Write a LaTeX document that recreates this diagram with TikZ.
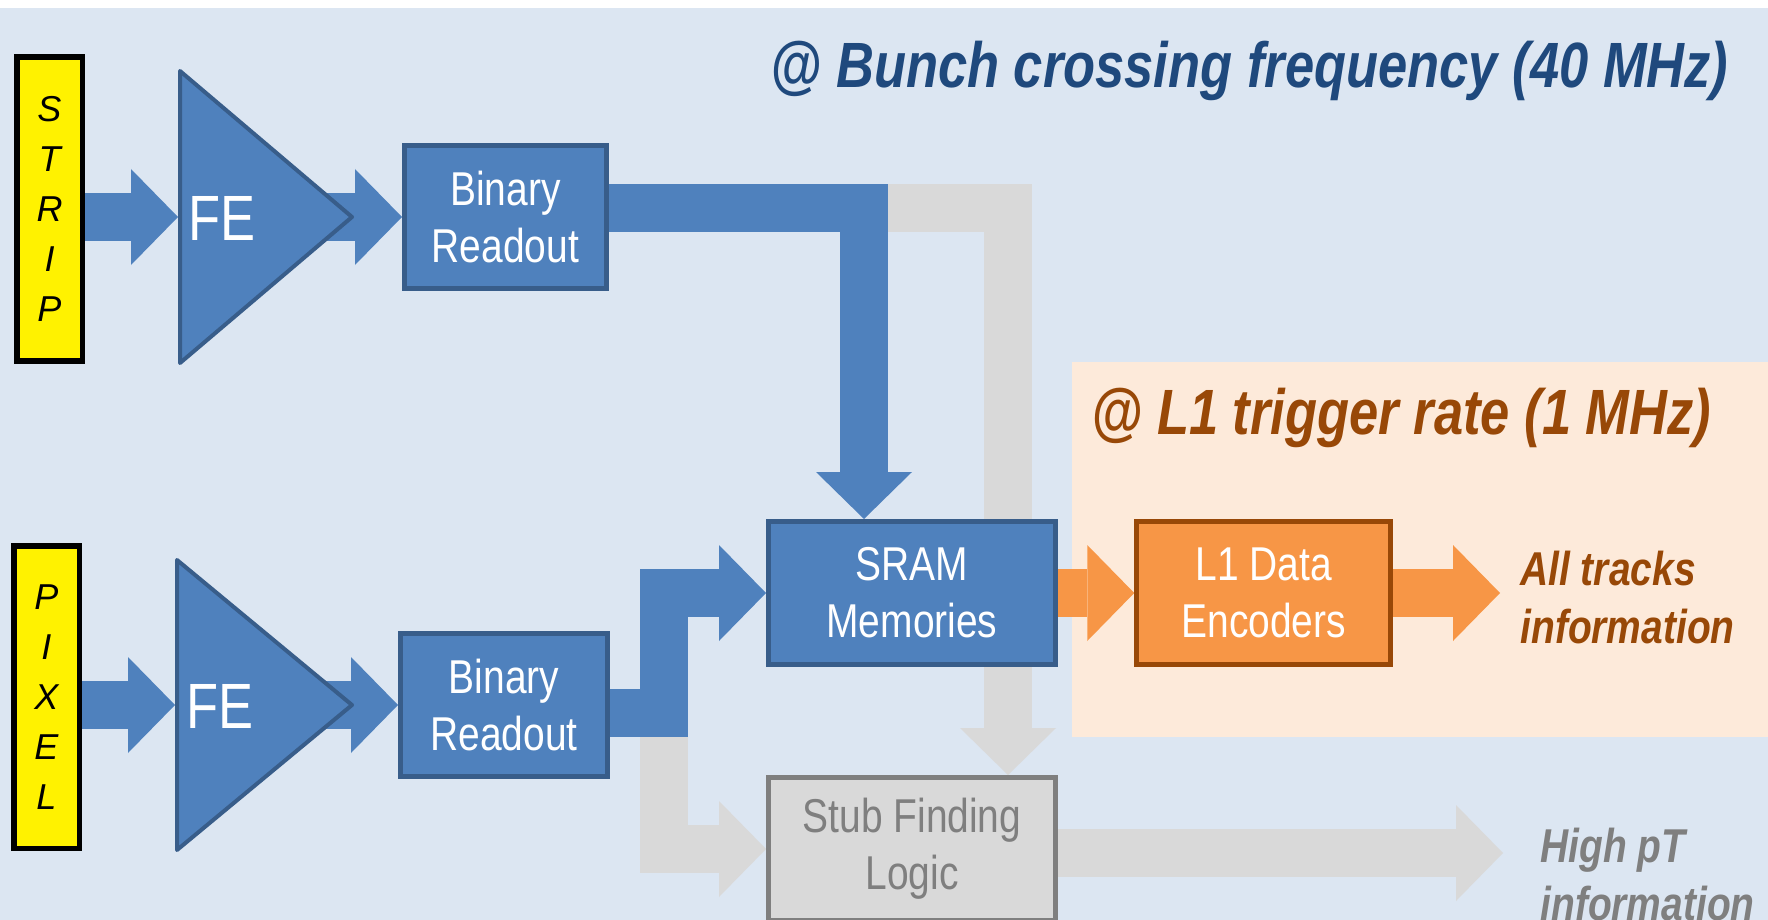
\documentclass[tikz,border=0pt]{standalone}
\usepackage{fontspec}
\setmainfont{Liberation Sans}[FakeStretch=0.82]
\newfontfamily\letterfont{Liberation Sans}
\usetikzlibrary{arrows.meta,calc}
\definecolor{bgblue}{HTML}{DCE6F2}
\definecolor{boxblue}{HTML}{4F81BD}
\definecolor{edgeblue}{HTML}{385D8A}
\definecolor{titleblue}{HTML}{1F497D}
\definecolor{fadegray}{HTML}{D9D9D9}
\definecolor{edgegray}{HTML}{7F7F7F}
\definecolor{l1bg}{HTML}{FDEADA}
\definecolor{l1orange}{HTML}{F79646}
\definecolor{l1brown}{HTML}{984807}
\pgfdeclarelayer{back}
\pgfdeclarelayer{flow}
\pgfsetlayers{back,flow,main}

\begin{document}
\begin{tikzpicture}[x=0.5pt, y=-0.5pt, every node/.style={inner sep=0pt},
    sensor/.style={draw=black, line width=2.75pt, fill=yellow, minimum width=32.75pt,
      minimum height=152pt, align=center,
      font=\letterfont\itshape\fontsize{18pt}{25pt}\selectfont},
    amp/.style={draw=edgeblue, line width=2pt, fill=boxblue, line join=round},
    amplabel/.style={anchor=west, text=white, font=\fontsize{32pt}{32pt}\selectfont},
    blk/.style={draw=edgeblue, line width=2.5pt, fill=boxblue, text=white,
      minimum height=71.5pt, align=center, font=\fontsize{23.75pt}{28.5pt}\selectfont},
    encbox/.style={blk, draw=l1brown, fill=l1orange},
    stubbox/.style={blk, draw=edgegray, fill=fadegray, text=edgegray},
    flowblue/.style={draw=boxblue, line width=24pt,
      -{Triangle[length=23.5pt, width=48pt, line width=0pt]}},
    flowgray/.style={flowblue, draw=fadegray},
    floworange/.style={flowblue, draw=l1orange},
    headline/.style={anchor=base west, font=\bfseries\itshape\fontsize{32pt}{38pt}\selectfont},
    outlabel/.style={anchor=west, align=left,
      font=\bfseries\itshape\fontsize{23.75pt}{29pt}\selectfont}]
  \useasboundingbox (0,0) rectangle (1768,920);
  % backgrounds
  \begin{pgfonlayer}{back}
    \fill[bgblue] (0,8) rectangle (1768,920);
    \fill[l1bg] (1072,361.5) rectangle (1768,736.5);
  \end{pgfonlayer}

  % rates
  \node[headline, text=titleblue] (bxrate) at (770,88) {@ Bunch crossing frequency (40 MHz)};
  \node[headline, text=l1brown] (l1rate) at (1091,434) {@ L1 trigger rate (1 MHz)};

  % sensors
  \node[sensor] (strip) at (49.5,209) {S\\T\\R\\I\\P};
  \node[sensor, minimum height=151.25pt] (pixel) at (46.5,697) {P\\I\\X\\E\\L};

  % front-end amplifiers
  \draw[amp] (180,71) -- (352,217) -- (180,363) -- cycle;
  \draw[amp] (177,560) -- (352,705) -- (177,850) -- cycle;
  \coordinate (fe1in) at (178,217);
  \coordinate (fe2in) at (175,705);
  \node[amplabel] (fe1) at (188,218) {FE};
  \node[amplabel] (fe2) at (186,706) {FE};

  % blocks
  \node[blk, minimum width=101pt] (binary1) at (505.5,217) {Binary\\Readout};
  \node[blk, minimum width=103.5pt] (binary2) at (504,705) {Binary\\Readout};
  \node[blk, minimum width=143.5pt] (sram) at (912,593) {SRAM\\Memories};
  \node[encbox, minimum width=127pt] (l1enc) at (1263.75,593) {L1 Data\\Encoders};
  \node[stubbox, minimum width=143.5pt] (stub) at (912,849) {Stub Finding\\Logic};

  % outputs
  \node[outlabel, text=l1brown] (tracks) at (1520,598) {All tracks\\information};
  \node[outlabel, text=edgegray] (hipt) at (1540,875) {High pT\\information};

  % data flow
  \begin{pgfonlayer}{flow}
    \coordinate (topbend) at (864,208);
    \coordinate (lowbend) at (664,713);
    \draw[flowgray] (topbend) -| ($(stub.north)+(96,0)$);
    \draw[flowgray] (lowbend) |- (stub.west);
    \draw[flowgray, shorten >=18.5pt] ($(stub.east)+(0,4)$) -- ($(stub.east -| hipt.west)+(0,4)$);
    \draw[flowblue] (strip.east |- fe1in) -- (fe1in);
    \draw[flowblue] (fe1.east |- binary1.west) -- (binary1.west);
    \draw[flowblue] (pixel.east |- fe2in) -- (fe2in);
    \draw[flowblue] (fe2.east |- binary2.west) -- (binary2.west);
    \draw[flowblue] (binary1.east |- topbend) -| ($(sram.north)+(-48,0)$);
    \draw[flowblue] (binary2.east |- lowbend) -- (lowbend) |- (sram.west);
    \draw[floworange] (sram.east) -- (l1enc.west);
    \draw[floworange, shorten >=10pt] (l1enc.east) -- (l1enc.east -| tracks.west);
  \end{pgfonlayer}
\end{tikzpicture}
\end{document}
